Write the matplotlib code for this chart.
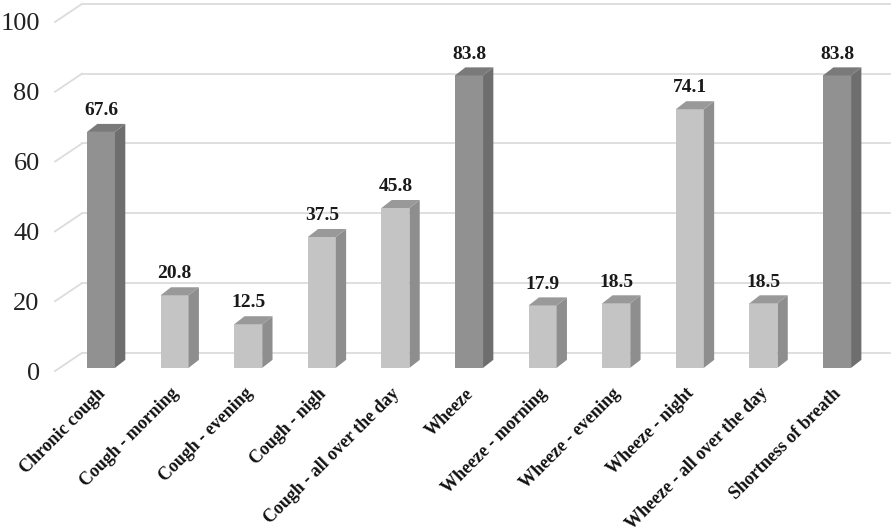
import matplotlib
matplotlib.use("Agg")
from matplotlib import pyplot as plt
from matplotlib.patches import Polygon
from matplotlib.transforms import ScaledTranslation

categories = ["Chronic cough", "Cough - morning", "Cough - evening", "Cough - nigh",
              "Cough - all over the day", "Wheeze", "Wheeze - morning", "Wheeze - evening",
              "Wheeze - night", "Wheeze - all over the day", "Shortness of breath"]
values = [67.6, 20.8, 12.5, 37.5, 45.8, 83.8, 17.9, 18.5, 74.1, 18.5, 83.8]
is_main = [True, False, False, False, False, True, False, False, False, False, True]
yticks = [0, 20, 40, 60, 80, 100]

plt.rcParams['font.family'] = ['Liberation Serif', 'DejaVu Serif']

fig = plt.figure(figsize=(8.96, 5.32), dpi=100)
ax = fig.add_axes([0.0614, 0.3026, 0.932, 0.6974])
ax.set_xlim(-0.625, 10.72)
ax.set_ylim(0, 106.3)

# 3d look: depth offsets
dx, dy = 0.14, 2.3
base = 0.9
width = 0.38

# gridlines: floor diagonal + back wall line
back_x = -0.258
for t in yticks:
    ax.plot([-0.625, back_x], [t, t + 5.2], color='#dcdcdc', lw=1.3, zorder=0, clip_on=False)
    ax.plot([back_x, 10.72], [t + 5.2, t + 5.2], color='#dcdcdc', lw=1.3, zorder=0, clip_on=False)

front_c = ['#919191' if m else '#c4c4c4' for m in is_main]
side_c = ['#6e6e6e' if m else '#8e8e8e' for m in is_main]
top_c = ['#7a7a7a' if m else '#999999' for m in is_main]

xs = list(range(len(categories)))
ax.bar(xs, values, width=width, bottom=base, color=front_c, zorder=2)
for i, v in enumerate(values):
    l, r = i - width / 2, i + width / 2
    t = base + v
    ax.add_patch(Polygon([(r, base), (r + dx, base + dy), (r + dx, t + dy), (r, t)],
                         closed=True, facecolor=side_c[i], edgecolor='none', zorder=2))
    ax.add_patch(Polygon([(l, t), (l + dx, t + dy), (r + dx, t + dy), (r, t)],
                         closed=True, facecolor=top_c[i], edgecolor='none', zorder=2))
    ax.text(i, v + 7, f"{v:.1f}", ha='center', va='center', fontsize=14,
            fontweight='bold', color='#1a1a1a')

ax.set_yticks(yticks, [str(t) for t in yticks], fontsize=19, color='#222222')
ax.set_xticks(xs, categories, rotation=45, ha='right', va='top', rotation_mode='anchor',
              fontsize=13, fontweight='bold', color='#111111')
ax.tick_params(axis='y', length=0, pad=11)
ax.tick_params(axis='x', length=0, pad=10)
shift = ScaledTranslation(-3 / 72, 0, fig.dpi_scale_trans)
for lbl in ax.get_xticklabels():
    lbl.set_transform(lbl.get_transform() + shift)
for s in ax.spines.values():
    s.set_visible(False)

fig.savefig("out.png", dpi=100)
